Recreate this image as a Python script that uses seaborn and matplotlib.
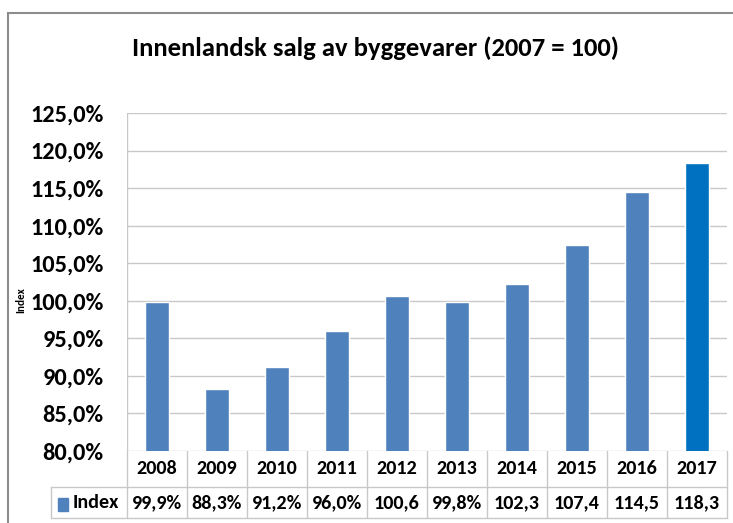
import matplotlib
matplotlib.use("Agg")
import matplotlib.pyplot as plt
import seaborn as sns
import pandas as pd
from matplotlib.patches import Rectangle
from matplotlib.lines import Line2D
import matplotlib.transforms as mtransforms

years = ["2008", "2009", "2010", "2011", "2012", "2013", "2014", "2015", "2016", "2017"]
values = [99.9, 88.3, 91.2, 96.0, 100.6, 99.8, 102.3, 107.4, 114.5, 118.3]
table_labels = ["99,9%", "88,3%", "91,2%", "96,0%", "100,6", "99,8%", "102,3", "107,4", "114,5", "118,3"]
yticks = [80, 85, 90, 95, 100, 105, 110, 115, 120, 125]
bar_colors = ["#4F81BD"] * 9 + ["#0070C0"]

sns.set_theme(style="white")
fam = ["Carlito", "DejaVu Sans"]
plt.rcParams["font.family"] = fam
plt.rcParams["text.color"] = "black"
plt.rcParams["ytick.color"] = "black"

W, H = 733, 523
fig = plt.figure(figsize=(W / 100, H / 100), dpi=100)
ax = fig.add_axes([127 / W, 1 - 451 / H, (727 - 127) / W, (451 - 113) / H])

df = pd.DataFrame({"year": years, "value": values})
sns.barplot(data=df, x="year", y="value", hue="year", palette=bar_colors,
            saturation=1, legend=False, width=0.40, ax=ax, zorder=3)

ax.set_ylim(80, 125)
ax.set_yticks(yticks)
ax.set_yticklabels([f"{t},0%" for t in yticks], fontsize=17.5, fontweight="bold")
ax.tick_params(axis="y", length=0, pad=17)
ax.set_xticks([])
ax.set_xlabel("")
ax.set_ylabel("")
grid_c = "#C8C8C8"
for y in yticks:
    ax.axhline(y, color=grid_c, lw=1.0, zorder=1)
for s in ax.spines.values():
    s.set_visible(False)
ax.axvline(-0.5, color=grid_c, lw=1.0, zorder=1)
ax.set_xlim(-0.5, 9.5)

# data table below the axes
trans = mtransforms.blended_transform_factory(ax.transData, ax.transAxes)
ah = 451 - 113
y_mid = -36 / ah
y_bot = -67 / ah
for i in range(11):
    ax.add_line(Line2D([i - 0.5, i - 0.5], [0, y_bot], transform=trans, color=grid_c, lw=1, clip_on=False))
ax.add_line(Line2D([-0.5, 9.5], [y_mid, y_mid], transform=trans, color=grid_c, lw=1, clip_on=False))
ax.add_line(Line2D([-0.5, 9.5], [y_bot, y_bot], transform=trans, color=grid_c, lw=1, clip_on=False))
for i, (yr, lab) in enumerate(zip(years, table_labels)):
    ax.text(i, y_mid / 2, yr, transform=trans, ha="center", va="center",
            fontsize=14.5, fontweight="bold")
    ax.text(i, (y_mid + y_bot) / 2, lab, transform=trans, ha="center", va="center",
            fontsize=14.5, fontweight="bold")

# row label cell
fx0 = 51 / W
fx1 = 127 / W
fy_mid = 1 - 487 / H
fy_bot = 1 - 518 / H
fig.add_artist(Line2D([fx0, fx1], [fy_mid, fy_mid], color=grid_c, lw=1))
fig.add_artist(Line2D([fx0, fx1], [fy_bot, fy_bot], color=grid_c, lw=1))
fig.add_artist(Line2D([fx0, fx0], [fy_mid, fy_bot], color=grid_c, lw=1))
fig.add_artist(Rectangle((58 / W, 1 - 511 / H), 10 / W, 13 / H, color="#4F81BD"))
fig.text(73 / W, (fy_mid + fy_bot) / 2, "Index", ha="left", va="center",
         fontsize=14.5, fontweight="bold")

# y label
fig.text(21 / W, 1 - 300 / H, "Index", rotation=90, ha="center", va="center",
         fontsize=8, fontweight="bold")

# title
fig.text(376 / W, 1 - 48 / H, "Innenlandsk salg av byggevarer (2007 = 100)",
         ha="center", va="center", fontsize=19.2, fontweight="bold")

# chart border
fig.add_artist(Rectangle((8 / W, -0.05), 1.0, 1 - 13 / H + 0.05, fill=False,
                         edgecolor="#8C8C8C", lw=1.5))

fig.savefig("out.png", dpi=100, facecolor="white")
